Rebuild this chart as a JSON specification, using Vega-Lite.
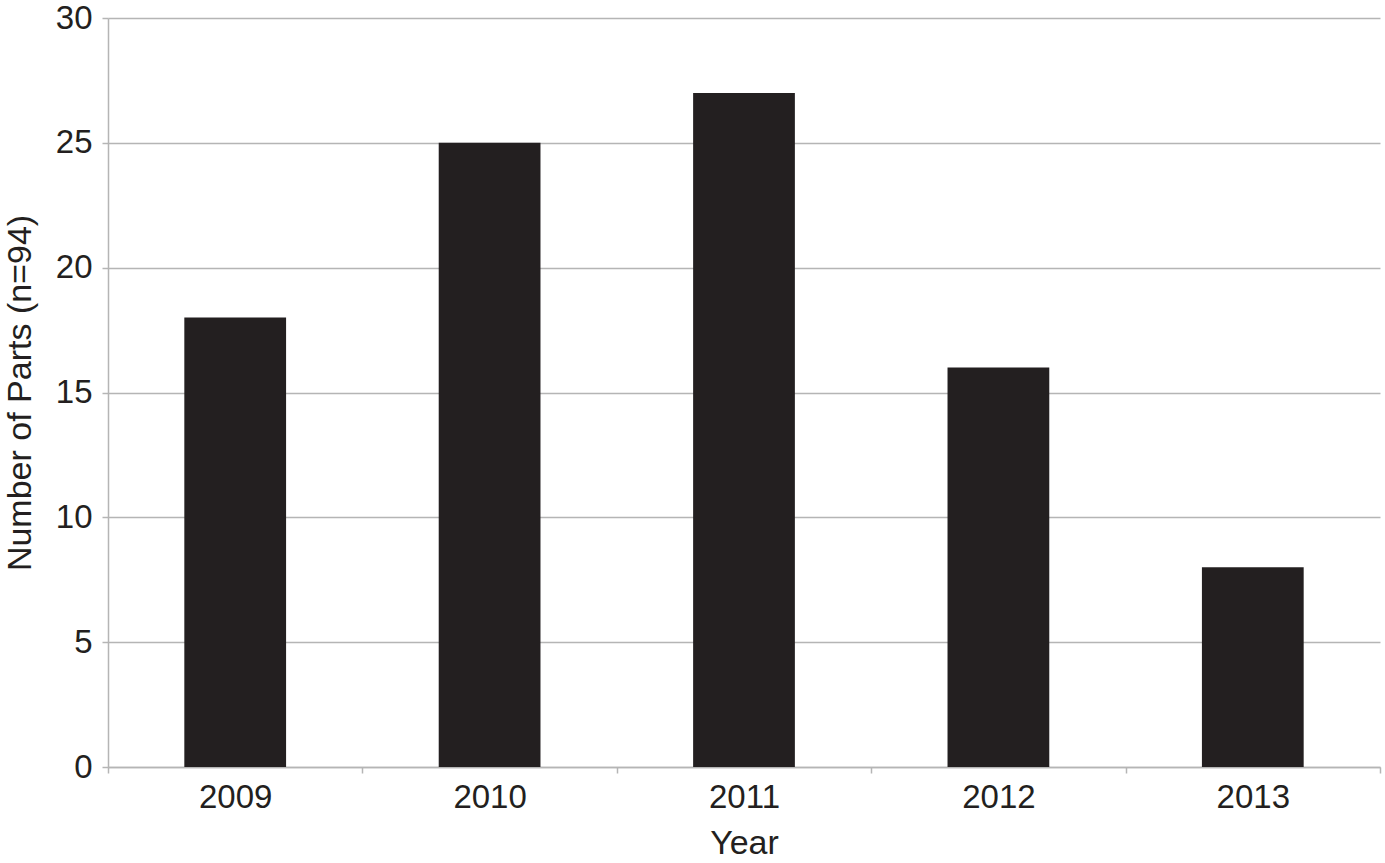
{
  "$schema": "https://vega.github.io/schema/vega-lite/v6.json",
  "autosize": {"type": "none"},
  "width": 1272,
  "height": 749,
  "padding": {"left": 108, "top": 18, "right": 5, "bottom": 96},
  "background": "white",
  "data": {"values": [
    {"Year": "2009", "Parts": 18},
    {"Year": "2010", "Parts": 25},
    {"Year": "2011", "Parts": 27},
    {"Year": "2012", "Parts": 16},
    {"Year": "2013", "Parts": 8}
  ]},
  "config": {
    "view": {"stroke": null},
    "font": "Liberation Sans",
    "axis": {
      "labelFont": "Liberation Sans",
      "titleFont": "Liberation Sans",
      "labelFontSize": 33,
      "titleFontSize": 34,
      "labelColor": "#231f20",
      "titleColor": "#231f20",
      "titleFontWeight": "normal",
      "domainColor": "#b5b5b5",
      "tickColor": "#b5b5b5",
      "gridColor": "#b5b5b5",
      "domainWidth": 1.5,
      "tickWidth": 1.5,
      "gridWidth": 1.5,
      "tickSize": 6
    }
  },
  "mark": {"type": "bar", "color": "#231f20", "width": {"band": 0.4}},
  "encoding": {
    "x": {
      "field": "Year",
      "type": "ordinal",
      "scale": {"paddingInner": 0, "paddingOuter": 0},
      "axis": {
        "title": "Year",
        "labelAngle": 0,
        "tickBand": "extent",
        "labelPadding": 8,
        "titlePadding": 12,
        "grid": false
      }
    },
    "y": {
      "field": "Parts",
      "type": "quantitative",
      "scale": {"domain": [0, 30], "nice": false},
      "axis": {
        "title": "Number of Parts (n=94)",
        "values": [0, 5, 10, 15, 20, 25, 30],
        "grid": true,
        "labelPadding": 10,
        "titlePadding": 18
      }
    }
  }
}
